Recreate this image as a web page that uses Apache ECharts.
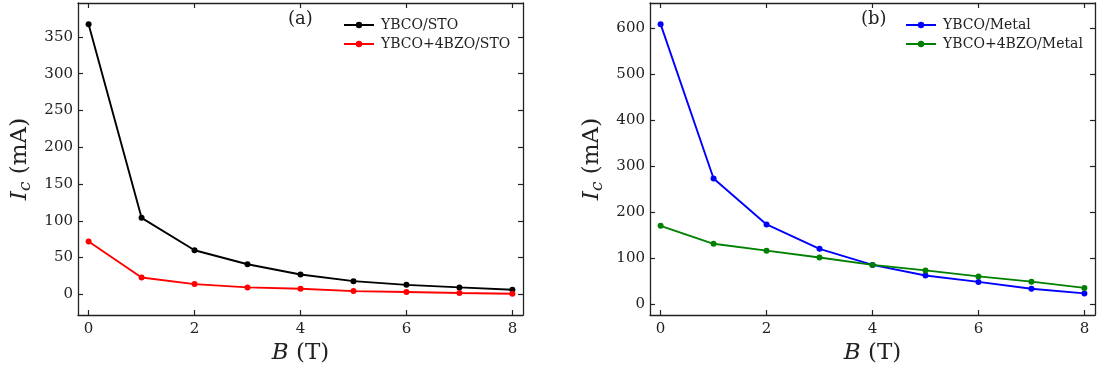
<!DOCTYPE html>
<html><head><meta charset="utf-8">
<script src="https://cdn.jsdelivr.net/npm/echarts@6/dist/echarts.min.js"></script>
<style>html,body{margin:0;padding:0;background:#fff}#c{width:1107px;height:372px}</style>
</head><body><div id="c"></div>
<script>
const fieldB = [0, 1, 2, 3, 4, 5, 6, 7, 8];
const ybcoSTO = [367, 104, 60, 41, 27, 18, 13, 9.5, 6.4];
const ybcoBzoSTO = [72, 23, 14, 9.5, 7.7, 4.5, 3.2, 1.8, 0.9];
const ybcoMetal = [609, 273, 173, 120, 85, 62, 48, 33, 23];
const ybcoBzoMetal = [170, 131, 116, 101, 85, 73, 60, 48.6, 35];
const xTicks = [0, 2, 4, 6, 8];
const yTicksA = [0, 50, 100, 150, 200, 250, 300, 350];
const yTicksB = [0, 100, 200, 300, 400, 500, 600];
const seriesNames = ['YBCO/STO', 'YBCO+4BZO/STO', 'YBCO/Metal', 'YBCO+4BZO/Metal'];

const FONT = 'DejaVu Serif';
const INK = '#222';
const pairs = v => fieldB.map((b, i) => [b, v[i]]);

function xAxes(gi) {
  const common = {
    type: 'value', gridIndex: gi, min: -0.2, max: 8.2,
    splitLine: { show: false },
    axisLine: { show: true, onZero: false, lineStyle: { color: INK, width: 1.3 } },
    axisTick: { show: true, inside: true, length: 5, customValues: xTicks, lineStyle: { color: INK, width: 1.2 } }
  };
  return [
    Object.assign({}, common, {
      position: 'bottom',
      axisLabel: { customValues: xTicks, fontFamily: FONT, fontSize: 15, color: INK, margin: 7 },
      name: '{i|B} (T)', nameLocation: 'middle', nameGap: 24,
      nameTextStyle: { fontFamily: FONT, fontSize: 23, color: INK,
        rich: { i: { fontFamily: FONT, fontStyle: 'italic', fontSize: 23, color: INK } } }
    }),
    Object.assign({}, common, { position: 'top', axisLabel: { show: false } })
  ];
}
function yAxes(gi, min, max, ticks) {
  const common = {
    type: 'value', gridIndex: gi, min: min, max: max,
    splitLine: { show: false },
    axisLine: { show: true, onZero: false, lineStyle: { color: INK, width: 1.3 } },
    axisTick: { show: true, inside: true, length: 5, customValues: ticks, lineStyle: { color: INK, width: 1.2 } }
  };
  return [
    Object.assign({}, common, {
      position: 'left',
      axisLabel: { customValues: ticks, fontFamily: FONT, fontSize: 15, color: INK, margin: 5 },
      name: '{i|I}{s|c} (mA)', nameLocation: 'middle', nameGap: 44,
      nameTextStyle: { fontFamily: FONT, fontSize: 23, color: INK,
        rich: { i: { fontFamily: FONT, fontStyle: 'italic', fontSize: 23, color: INK },
                s: { fontFamily: FONT, fontStyle: 'italic', fontSize: 17, color: INK, padding: [10, 0, 0, 0] } } }
    }),
    Object.assign({}, common, { position: 'right', axisLabel: { show: false } })
  ];
}
function line(name, data, color, xi, yi) {
  return { name: name, type: 'line', xAxisIndex: xi, yAxisIndex: yi, data: pairs(data),
    symbol: 'circle', symbolSize: 6, itemStyle: { color: color },
    lineStyle: { color: color, width: 1.9 }, animation: false };
}
function legend(left, names) {
  return { left: left, top: 13, orient: 'vertical', itemGap: 5, itemWidth: 30, itemHeight: 8,
    data: names, textStyle: { fontFamily: FONT, fontSize: 14, color: INK, padding: [0,0,0,2] } };
}

const chart = echarts.init(document.getElementById('c'), null, { renderer: 'canvas' });
chart.setOption({
  backgroundColor: '#fff',
  animation: false,
  grid: [
    { left: 78, top: 3, width: 445, height: 312 },
    { left: 650, top: 3, width: 445, height: 312 }
  ],
  xAxis: [...xAxes(0), ...xAxes(1)],
  yAxis: [...yAxes(0, -28, 396, yTicksA), ...yAxes(1, -24, 655, yTicksB)],
  legend: [legend(338, seriesNames.slice(0, 2)), legend(900, seriesNames.slice(2))],
  graphic: [
    { type: 'text', left: 288, top: 10, style: { text: '(a)', fontFamily: FONT, fontSize: 18, fill: INK } },
    { type: 'text', left: 861, top: 10, style: { text: '(b)', fontFamily: FONT, fontSize: 18, fill: INK } }
  ],
  series: [
    line(seriesNames[0], ybcoSTO, '#000000', 0, 0),
    line(seriesNames[1], ybcoBzoSTO, '#ff0000', 0, 0),
    line(seriesNames[2], ybcoMetal, '#0000ff', 2, 2),
    line(seriesNames[3], ybcoBzoMetal, '#008000', 2, 2)
  ]
});
</script></body></html>
